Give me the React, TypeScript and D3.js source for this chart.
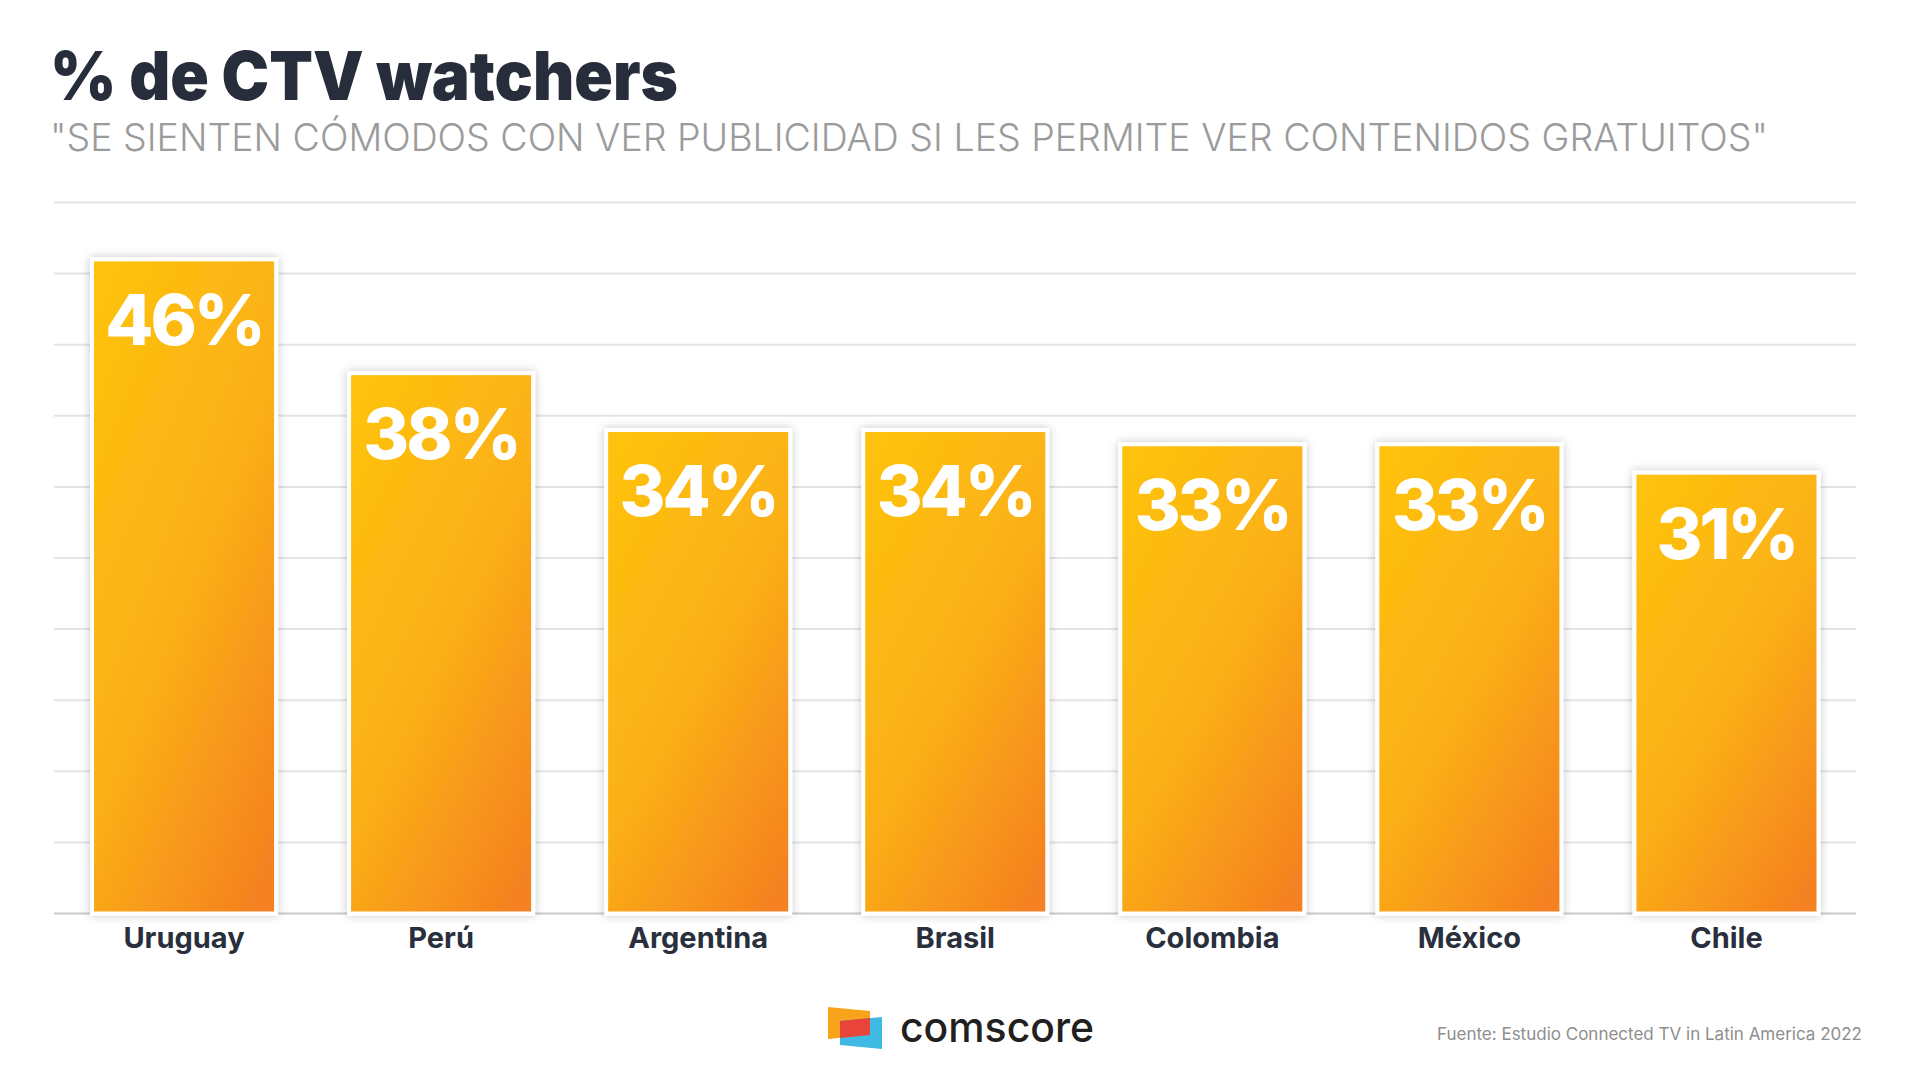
import React, { useEffect, useRef } from 'react';
import * as d3 from 'd3';

const countries = ['Uruguay', 'Perú', 'Argentina', 'Brasil', 'Colombia', 'México', 'Chile'];
const values = [46, 38, 34, 34, 33, 33, 31];
const yMax = 50;

const title = '% de CTV watchers';
const subtitle = '"SE SIENTEN CÓMODOS CON VER PUBLICIDAD SI LES PERMITE VER CONTENIDOS GRATUITOS"';
const source = 'Fuente: Estudio Connected TV in Latin America 2022';

const W = 1920;
const H = 1080;
const font = 'Inter, "Noto Sans", sans-serif';

const App: React.FC = () => {
    const svgRef = useRef<SVGSVGElement>(null);

    useEffect(() => {
        if (!svgRef.current) return;
        const svg = d3.select(svgRef.current);
        svg.selectAll('*').remove();

        const x = d3.scaleBand<string>()
            .domain(countries)
            .range([55.5, 1855])
            .paddingInner(0.284)
            .paddingOuter(0.142);

        const y = d3.scaleLinear()
            .domain([0, yMax])
            .range([913.5, 202.5]);

        const defs = svg.append('defs');
        const grad = defs.append('linearGradient')
            .attr('id', 'barGrad')
            .attr('x1', '15%').attr('y1', '0%')
            .attr('x2', '85%').attr('y2', '100%');
        grad.append('stop').attr('offset', '0%').attr('stop-color', '#fec10e');
        grad.append('stop').attr('offset', '50%').attr('stop-color', '#fbb016');
        grad.append('stop').attr('offset', '100%').attr('stop-color', '#f58220');

        const shadow = defs.append('filter')
            .attr('id', 'shadow')
            .attr('x', '-20%').attr('y', '-20%')
            .attr('width', '140%').attr('height', '140%');
        shadow.append('feDropShadow')
            .attr('dx', 0).attr('dy', 0)
            .attr('stdDeviation', 5)
            .attr('flood-color', '#000')
            .attr('flood-opacity', 0.22);

        // fondo
        svg.append('rect').attr('width', W).attr('height', H).attr('fill', '#ffffff');

        // titulo
        svg.append('text')
            .attr('x', 50).attr('y', 100)
            .attr('font-family', font)
            .attr('font-weight', 900)
            .attr('font-size', 68)
            .attr('fill', '#272d3a')
            .attr('textLength', 628)
            .attr('lengthAdjust', 'spacingAndGlyphs')
            .text(title);

        svg.append('text')
            .attr('x', 50).attr('y', 151)
            .attr('font-family', font)
            .attr('font-weight', 300)
            .attr('font-size', 38)
            .attr('fill', '#9b9b9b')
            .attr('textLength', 1718)
            .attr('lengthAdjust', 'spacingAndGlyphs')
            .text(subtitle);

        // grid
        svg.append('g')
            .selectAll('line')
            .data(y.ticks(10))
            .join('line')
            .attr('x1', 54)
            .attr('x2', 1856)
            .attr('y1', d => y(d))
            .attr('y2', d => y(d))
            .attr('stroke', d => (d === 0 ? '#c9c9cc' : '#e4e4e8'))
            .attr('stroke-width', 2);

        // barras
        const bars = svg.append('g');
        bars.selectAll('rect')
            .data(values)
            .join('rect')
            .attr('x', (d, i) => x(countries[i])!)
            .attr('y', d => y(d))
            .attr('width', x.bandwidth())
            .attr('height', d => y(0) - y(d))
            .attr('fill', 'url(#barGrad)')
            .attr('stroke', '#ffffff')
            .attr('stroke-width', 4)
            .attr('filter', 'url(#shadow)');

        bars.selectAll('text')
            .data(values)
            .join('text')
            .attr('x', (d, i) => x(countries[i])! + x.bandwidth() / 2)
            .attr('y', d => y(d) + 86)
            .attr('text-anchor', 'middle')
            .attr('font-family', font)
            .attr('font-weight', 800)
            .attr('font-size', 70)
            .attr('letter-spacing', -3)
            .attr('fill', '#ffffff')
            .text(d => `${d}%`);

        // eje x
        svg.append('g')
            .selectAll('text')
            .data(countries)
            .join('text')
            .attr('x', d => x(d)! + x.bandwidth() / 2)
            .attr('y', 948)
            .attr('text-anchor', 'middle')
            .attr('font-family', font)
            .attr('font-weight', 700)
            .attr('font-size', 29)
            .attr('fill', '#2a2f3d')
            .text(d => d);

        // logo comscore
        const logo = svg.append('g').attr('transform', 'translate(-6,-5)');
        logo.append('polygon')
            .attr('points', '834,1012 876,1016 876,1040 834,1044')
            .attr('fill', '#f9a31a');
        logo.append('polygon')
            .attr('points', '846,1026 888,1022 888,1054 846,1050')
            .attr('fill', '#3fbae2');
        logo.append('polygon')
            .attr('points', '846,1026 876,1023.1 876,1040 846,1042.9')
            .attr('fill', '#e8443a');
        svg.append('text')
            .attr('x', 900).attr('y', 1042)
            .attr('font-family', font)
            .attr('font-weight', 500)
            .attr('font-size', 42)
            .attr('fill', '#231f20')
            .attr('textLength', 194)
            .attr('lengthAdjust', 'spacingAndGlyphs')
            .text('comscore');

        svg.append('text')
            .attr('x', 1862).attr('y', 1040)
            .attr('text-anchor', 'end')
            .attr('font-family', font)
            .attr('font-weight', 400)
            .attr('font-size', 17)
            .attr('fill', '#8e8e8e')
            .text(source);
    }, []);

    return (
        <svg
            ref={svgRef}
            width={W}
            height={H}
            style={{ position: 'absolute', left: 0, top: 0, display: 'block' }}
        />
    );
};

export default App;
